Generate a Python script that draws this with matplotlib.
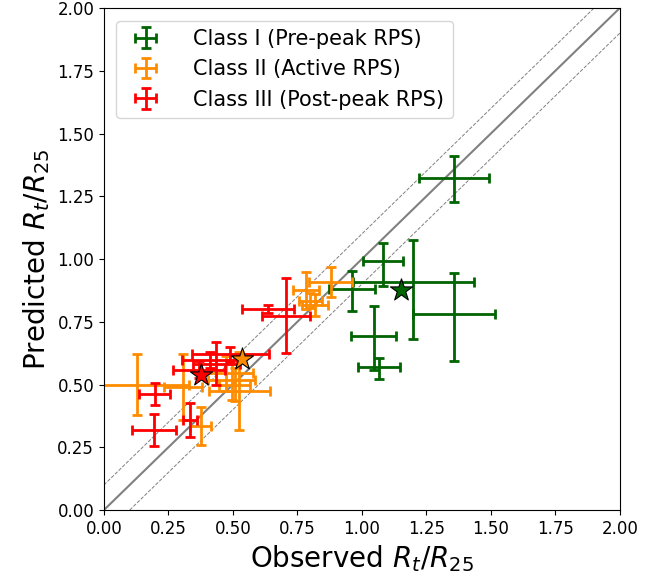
import matplotlib
matplotlib.use("Agg")
import matplotlib.pyplot as plt
import numpy as np

# Class I (pre-peak)
c1_obs = [1.357, 1.083, 0.963, 1.200, 1.357, 1.046, 1.066]
c1_obs_err = [0.135, 0.078, 0.090, 0.235, 0.158, 0.086, 0.081]
c1_pred = [1.322, 0.992, 0.879, 0.907, 0.781, 0.693, 0.569]
c1_pred_lo = [0.095, 0.100, 0.085, 0.227, 0.185, 0.135, 0.048]
c1_pred_hi = [0.088, 0.072, 0.074, 0.169, 0.165, 0.121, 0.038]

# Class II (active)
c2_obs = [0.130, 0.307, 0.375, 0.525, 0.475, 0.495, 0.508, 0.785, 0.880, 0.818, 0.800]
c2_obs_err = [0.200, 0.075, 0.040, 0.118, 0.104, 0.090, 0.060, 0.050, 0.083, 0.050, 0.045]
c2_pred = [0.500, 0.490, 0.335, 0.475, 0.545, 0.518, 0.500, 0.875, 0.910, 0.817, 0.835]
c2_pred_err = [0.120, 0.130, 0.076, 0.155, 0.070, 0.080, 0.065, 0.073, 0.060, 0.042, 0.030]

# Class III (post-peak)
c3_obs = [0.198, 0.195, 0.333, 0.706, 0.636, 0.436, 0.490, 0.410, 0.370]
c3_obs_err = [0.060, 0.084, 0.027, 0.092, 0.102, 0.090, 0.150, 0.107, 0.100]
c3_pred = [0.462, 0.320, 0.360, 0.775, 0.802, 0.583, 0.620, 0.598, 0.560]
c3_pred_err = [0.043, 0.064, 0.068, 0.150, 0.015, 0.085, 0.030, 0.030, 0.035]

# class means (stars)
mean_obs = [1.153, 0.534, 0.375]
mean_pred = [0.876, 0.602, 0.538]

colors = ["darkgreen", "darkorange", "red"]
labels = ["Class I (Pre-peak RPS)", "Class II (Active RPS)", "Class III (Post-peak RPS)"]

fig = plt.figure(figsize=(6.7, 5.79), dpi=100)
ax = fig.add_axes([0.155, 0.119, 0.77, 0.867])

line = np.array([0, 2])
ax.plot(line, line, color="gray", lw=1.5, zorder=1)
ax.plot(line, line + 0.1, color="gray", lw=0.7, ls="--", zorder=1)
ax.plot(line, line - 0.1, color="gray", lw=0.7, ls="--", zorder=1)

ekw = dict(fmt="none", elinewidth=2, capsize=3.5, capthick=2, zorder=2)
ax.errorbar(c1_obs, c1_pred, xerr=c1_obs_err, yerr=[c1_pred_lo, c1_pred_hi],
            ecolor=colors[0], label=labels[0], **ekw)
ax.errorbar(c2_obs, c2_pred, xerr=c2_obs_err, yerr=c2_pred_err,
            ecolor=colors[1], label=labels[1], **ekw)
ax.errorbar(c3_obs, c3_pred, xerr=c3_obs_err, yerr=c3_pred_err,
            ecolor=colors[2], label=labels[2], **ekw)

for mx, my, c in zip(mean_obs, mean_pred, colors):
    ax.scatter(mx, my, marker="*", s=280, color=c, edgecolors="black",
               linewidths=0.8, zorder=4)

ax.set_xlim(0, 2)
ax.set_ylim(0, 2)
ax.set_xticks(np.arange(0, 2.01, 0.25))
ax.set_yticks(np.arange(0, 2.01, 0.25))
ax.xaxis.set_major_formatter(matplotlib.ticker.FormatStrFormatter("%.2f"))
ax.yaxis.set_major_formatter(matplotlib.ticker.FormatStrFormatter("%.2f"))
ax.tick_params(labelsize=12)
ax.set_xlabel(r"Observed $R_t/R_{25}$", fontsize=20)
ax.set_ylabel(r"Predicted $R_t/R_{25}$", fontsize=20)
ax.legend(loc="upper left", fontsize=15, handletextpad=1.3, borderaxespad=0.6)

fig.savefig("out.png", dpi=100)
